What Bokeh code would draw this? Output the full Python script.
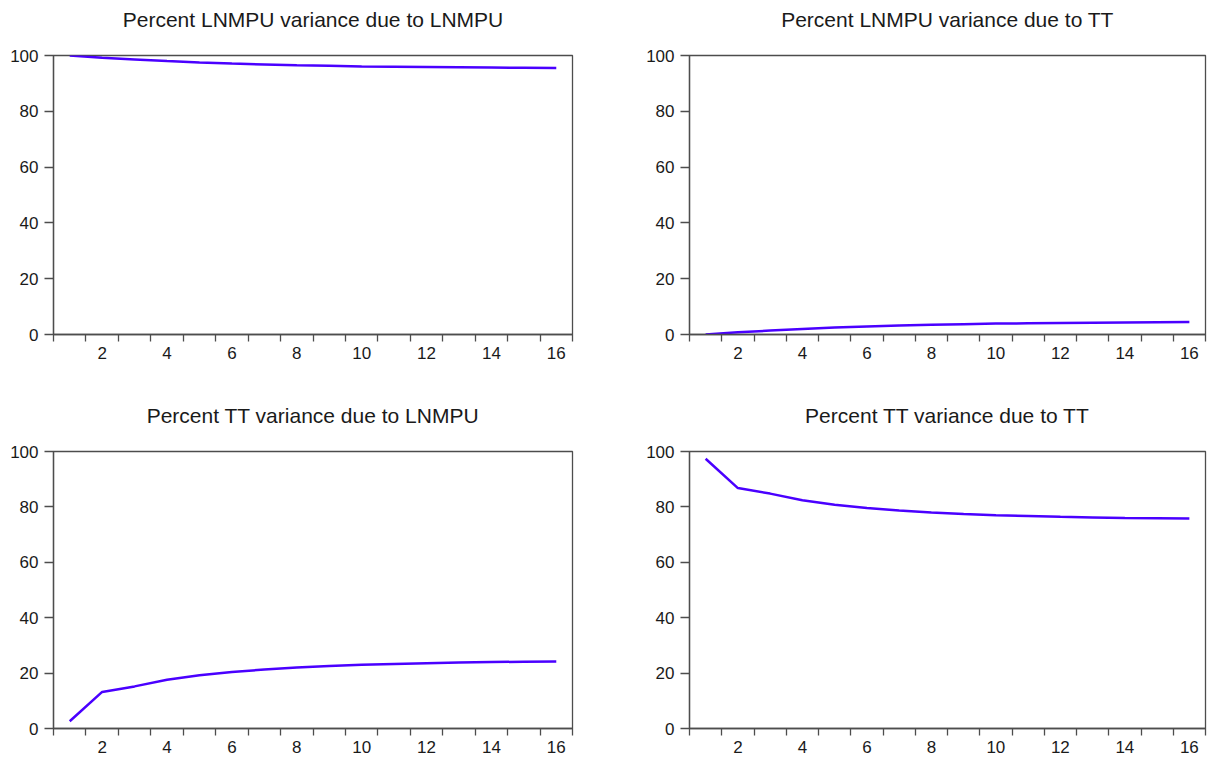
from bokeh.plotting import figure
from bokeh.layouts import column, row
from bokeh.models import Range1d, FixedTicker, Title
from bokeh.embed import file_html
from bokeh.resources import INLINE

periods = list(range(1, 17))
lnmpu_due_lnmpu = [100.0, 99.2, 98.6, 98.0, 97.5, 97.1, 96.8, 96.5, 96.3, 96.1, 96.0, 95.9, 95.8, 95.7, 95.6, 95.5]
lnmpu_due_tt = [0.0, 0.8, 1.4, 2.0, 2.5, 2.9, 3.2, 3.5, 3.7, 3.9, 4.0, 4.1, 4.2, 4.3, 4.4, 4.5]
tt_due_lnmpu = [2.6, 13.2, 15.2, 17.6, 19.2, 20.4, 21.3, 22.0, 22.6, 23.0, 23.3, 23.6, 23.8, 24.0, 24.1, 24.2]
tt_due_tt = [97.4, 86.8, 84.8, 82.4, 80.8, 79.6, 78.7, 78.0, 77.4, 77.0, 76.7, 76.4, 76.2, 76.0, 75.9, 75.8]

titles = ["Percent LNMPU variance due to LNMPU", "Percent LNMPU variance due to TT",
          "Percent TT variance due to LNMPU", "Percent TT variance due to TT"]
x_labels = [2, 4, 6, 8, 10, 12, 14, 16]
x_bounds = [i + 0.5 for i in range(0, 17)]
y_ticks = [0, 20, 40, 60, 80, 100]

FONT = "Liberation Sans"
LINE = "#4a00ff"
AXIS = "#4d4d4d"
TEXT = "#1a1a1a"


def make(title, ys, left, fw, right, top, fh, bottom):
    p = figure(output_backend="svg", toolbar_location=None,
               frame_width=fw, frame_height=fh,
               min_border_left=left, min_border_right=right,
               min_border_top=top, min_border_bottom=bottom,
               x_range=Range1d(0.5, 16.5), y_range=Range1d(0, 100),
               title=title)
    p.title.text_font = FONT
    p.title.text_font_size = "21px"
    p.title.text_font_style = "normal"
    p.title.align = "center"
    p.title.text_color = TEXT
    p.title.standoff = 0
    # invisible spacer between the frame and the title
    p.add_layout(Title(text=" ", text_font_size="1px", standoff=22), "above")
    p.xgrid.visible = False
    p.ygrid.visible = False
    p.outline_line_color = AXIS
    p.outline_line_width = 1.3
    p.background_fill_color = "white"
    p.border_fill_color = "white"

    xa = p.xaxis[0]
    xa.ticker = FixedTicker(ticks=x_labels, minor_ticks=x_bounds)
    xa.major_tick_out = 0
    xa.major_tick_in = 0
    xa.minor_tick_out = 7
    xa.minor_tick_in = 0
    xa.minor_tick_line_color = AXIS
    xa.minor_tick_line_width = 1.3
    xa.axis_line_color = AXIS
    xa.axis_line_width = 1.3
    xa.major_label_standoff = 5
    xa.major_label_text_font = FONT
    xa.major_label_text_font_size = "17px"
    xa.major_label_text_color = TEXT

    ya = p.yaxis[0]
    ya.ticker = FixedTicker(ticks=y_ticks)
    ya.major_tick_out = 9
    ya.major_tick_in = 0
    ya.minor_tick_out = 0
    ya.minor_tick_in = 0
    ya.major_tick_line_color = AXIS
    ya.major_tick_line_width = 1.3
    ya.axis_line_color = AXIS
    ya.axis_line_width = 1.3
    ya.major_label_standoff = 6
    ya.major_label_text_font = FONT
    ya.major_label_text_font_size = "17px"
    ya.major_label_text_color = TEXT

    p.line(periods, ys, line_color=LINE, line_width=2.5)
    return p


p1 = make(titles[0], lnmpu_due_lnmpu, 53, 519, 33, 55, 279, 67)
p2 = make(titles[1], lnmpu_due_tt, 84, 516, 2, 55, 279, 67)
p3 = make(titles[2], tt_due_lnmpu, 53, 519, 33, 50, 277, 28)
p4 = make(titles[3], tt_due_tt, 84, 516, 2, 50, 277, 28)

layout = column(row(p1, p2), row(p3, p4))
open("out.html", "w").write(file_html(layout, INLINE))
